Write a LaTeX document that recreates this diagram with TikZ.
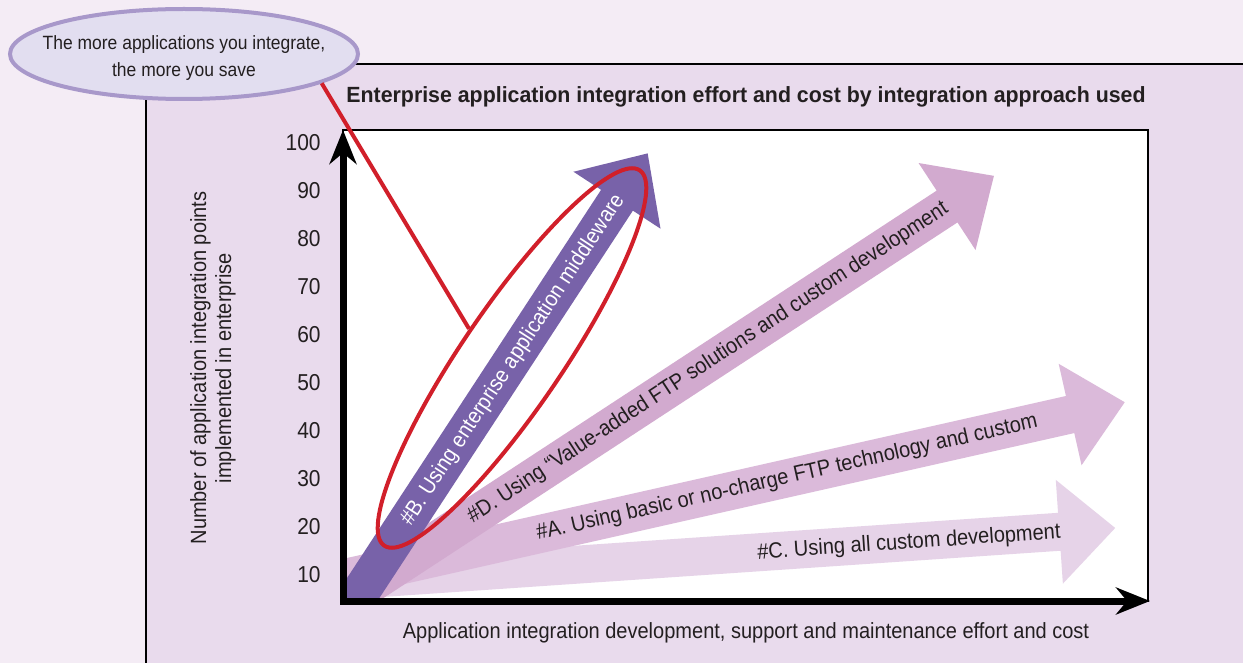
\documentclass[tikz,border=0pt]{standalone}
\usepackage{fontspec}
\setmainfont{Liberation Sans}[FakeStretch=0.91]
\newfontfamily\titlefont{Liberation Sans}[FakeStretch=0.97]
\usetikzlibrary{shapes.geometric,arrows.meta}

\definecolor{bgout}{HTML}{F4ECF5}
\definecolor{panelbg}{HTML}{E9DBED}
\definecolor{calloutfill}{HTML}{E2DEF0}
\definecolor{calloutedge}{HTML}{A898CA}
\definecolor{ringred}{HTML}{D11F2A}
\definecolor{bandB}{HTML}{7862A9}
\definecolor{bandD}{HTML}{D2AACF}
\definecolor{bandA}{HTML}{DBBADA}
\definecolor{bandC}{HTML}{E6D3E8}
\definecolor{inkdark}{HTML}{231F20}

\begin{document}
\begin{tikzpicture}[x=0.5pt,y=0.5pt,
  every node/.style={font=\fontsize{11}{13}\selectfont,text=inkdark,inner sep=0pt},
  callout/.style={ellipse,draw=calloutedge,line width=2pt,fill=calloutfill,
    minimum width=174pt,minimum height=45pt},
  callouttext/.style={align=center,font=\fontsize{9.6}{13.5}\selectfont},
  redring/.style={ellipse,draw=ringred,line width=2pt,
    minimum width=227pt,minimum height=50pt},
  redline/.style={draw=ringred,line width=2pt},
  axisline/.style={line width=3.5pt,-{Stealth[length=17pt,width=13.5pt]}},
  ticklabel/.style={anchor=east,font=\fontsize{11.5}{13}\selectfont},
  bandtext/.style={font=\fontsize{11}{13}\selectfont},]

  \useasboundingbox (0,0) rectangle (1243,-663);
  \fill[bgout] (0,0) rectangle (1243,-663);

  % panel
  \fill[panelbg] (146,-64) rectangle (1243,-663);
  \draw[line width=1pt] (146,-663) -- (146,-64) -- (1243,-64);

  % plot area
  \fill[white] (343,-130) rectangle (1148,-601);
  \draw[line width=1pt] (343,-130) rectangle (1148,-601);

  % the four approaches
  \begin{scope}
    \clip (343,-130) rectangle (1148,-601);
    \fill[bandC, shift={(352,-580)}, rotate=3.9]
      (-40,-19) -- (709,-19) -- (709,-52) -- (765,0) -- (709,52) -- (709,19) -- (-40,19) -- cycle;
    \fill[bandA, shift={(358,-575)}, rotate=12.7]
      (-40,-19) -- (730,-19) -- (730,-52) -- (786,0) -- (730,52) -- (730,19) -- (-40,19) -- cycle;
    \fill[bandD, shift={(358,-592)}, rotate=33.2]
      (-40,-19) -- (704,-19) -- (704,-52) -- (760,0) -- (704,52) -- (704,19) -- (-40,19) -- cycle;
    \fill[bandB, shift={(358,-596)}, rotate=56.8]
      (-40,-19) -- (473,-19) -- (473,-52) -- (529,0) -- (473,52) -- (473,19) -- (-40,19) -- cycle;
  \end{scope}

  \node[bandtext, rotate=3.9] (txtC) at (909,-543) {\#C. Using all custom development};
  \node[bandtext, rotate=12.7] (txtA) at (787,-478) {\#A. Using basic or no-charge FTP technology and custom};
  \node[bandtext, rotate=33.2] (txtD) at (708,-363) {\#D. Using “Value-added FTP solutions and custom development};
  \node[bandtext, rotate=56.8, text=white] (txtB) at (513,-360) {\#B. Using enterprise application middleware};

  % axes
  \draw[axisline] (343,-604) -- (343,-130);
  \draw[axisline] (340,-601) -- (1150,-601);

  \foreach \v in {10,20,...,100}
    \node[ticklabel] (y\v) at (321,{-575+(\v-10)*4.8}) {\v};

  \node[rotate=90, align=center, font=\fontsize{11}{12.5}\selectfont] (ylabel) at (213,-368)
    {Number of application integration points\\implemented in enterprise};
  \node (xlabel) at (746,-633)
    {Application integration development, support and maintenance effort and cost};
  \node[font=\titlefont\bfseries\fontsize{11}{13}\selectfont] (title) at (746,-97)
    {Enterprise application integration effort and cost by integration approach used};

  % callout
  \node[callout] (callout) at (184,-54) {};
  \node[callouttext] (callouttxt) at (184,-58) {The more applications you integrate,\\the more you save};
  \node[redring, rotate=55.75] (ring) at (512,-358) {};
  \draw[redline] (ring.north) -- (callout.-12);

\end{tikzpicture}
\end{document}
